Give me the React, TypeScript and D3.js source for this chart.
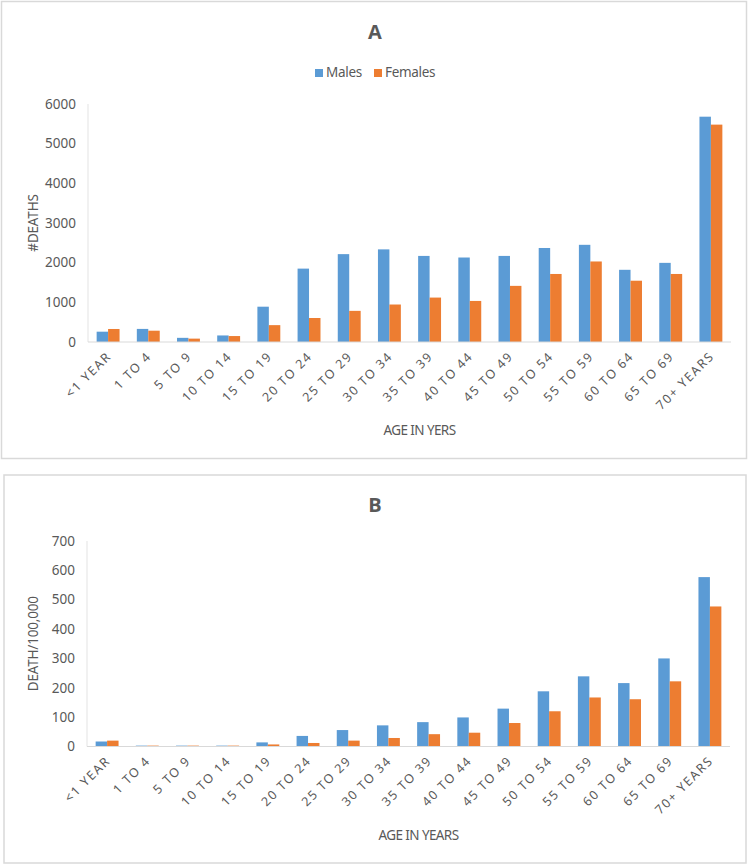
import React from "react";
import * as d3 from "d3";

const categories = ["<1 YEAR","1 TO 4","5 TO 9","10 TO 14","15 TO 19","20 TO 24","25 TO 29","30 TO 34","35 TO 39","40 TO 44","45 TO 49","50 TO 54","55 TO 59","60 TO 64","65 TO 69","70+ YEARS"];
const seriesNames = ["Males", "Females"];
const deathsMales = [260, 330, 105, 165, 890, 1850, 2215, 2335, 2170, 2130, 2170, 2370, 2450, 1820, 1995, 5680];
const deathsFemales = [328, 285, 85, 150, 425, 605, 785, 945, 1120, 1035, 1415, 1715, 2030, 1545, 1715, 5480];
const rateMales = [17, 3, 3, 3, 14, 36, 56, 72, 83, 99, 129, 188, 239, 216, 300, 577];
const rateFemales = [20, 3, 3, 3, 7, 12, 20, 29, 42, 47, 80, 120, 167, 161, 222, 477];
const ticksA = [0, 1000, 2000, 3000, 4000, 5000, 6000];
const ticksB = [0, 100, 200, 300, 400, 500, 600, 700];

const COLORS = ["#5B9BD5", "#ED7D31"];
const TEXT = "#595959";
const FONT = "'Noto Sans', sans-serif";

function Panel(props: any) {
  const { box, title, titleY, legendY, yTop, yBottom, yMax, ticks, yLabel, xLabel, xLabelY, males, females, left, right } = props;
  const x = d3.scaleBand<string>().domain(categories).range([left, right]).paddingInner(0.43).paddingOuter(0.215);
  const xs = d3.scaleBand<string>().domain(seriesNames).range([0, x.bandwidth()]);
  const y = d3.scaleLinear().domain([0, yMax]).range([yBottom, yTop]);
  const cx = (left + right) / 2;
  return (
    <g>
      <rect x={box[0]} y={box[1]} width={box[2]} height={box[3]} fill="#fff" stroke="#d9d9d9" strokeWidth={1.5} />
      <text x={375} y={titleY} textAnchor="middle" fontFamily="'Open Sans', sans-serif" fontWeight="bold" fontSize={20} fill={TEXT}>{title}</text>
      {legendY != null && (
        <g>
          <rect x={315} y={legendY - 8} width={8} height={8} fill={COLORS[0]} />
          <text x={326} y={legendY} fontFamily={FONT} fontSize={13.5} letterSpacing={-0.3} fill={TEXT}>Males</text>
          <rect x={374} y={legendY - 8} width={8} height={8} fill={COLORS[1]} />
          <text x={385} y={legendY} fontFamily={FONT} fontSize={13.5} letterSpacing={-0.3} fill={TEXT}>Females</text>
        </g>
      )}
      <line x1={left} x2={left} y1={yTop} y2={yBottom} stroke="#e3e3e3" />
      {ticks.map((t: number) => (
        <text key={t} x={left - 12} y={y(t)} dy="0.35em" textAnchor="end" fontFamily={FONT} fontSize={13.5} fill={TEXT}>{t}</text>
      ))}
      {categories.map((c, i) => (
        <g key={c} transform={`translate(${x(c)},0)`}>
          <rect x={xs("Males")} y={y(males[i])} width={xs.bandwidth()} height={yBottom - y(males[i])} fill={COLORS[0]} />
          <rect x={xs("Females")} y={y(females[i])} width={xs.bandwidth()} height={yBottom - y(females[i])} fill={COLORS[1]} />
        </g>
      ))}
      <line x1={left} x2={right} y1={yBottom} y2={yBottom} stroke="#d9d9d9" />
      {categories.map((c) => {
        const px = (x(c) as number) + x.bandwidth() / 2 + 4;
        const py = yBottom + 15;
        return (
          <text key={c} transform={`translate(${px},${py}) rotate(-45)`} textAnchor="end" fontFamily={FONT} fontSize={12.5} letterSpacing={1.6} fill={TEXT}>{c}</text>
        );
      })}
      <text transform={`translate(${props.yLabelX},${(yTop + yBottom) / 2}) rotate(-90)`} textAnchor="middle" fontFamily={FONT} fontSize={13.5} letterSpacing={-0.2} fill={TEXT}>{yLabel}</text>
      <text x={cx + 10} y={xLabelY} textAnchor="middle" fontFamily={FONT} fontSize={13.5} letterSpacing={-0.6} fill={TEXT}>{xLabel}</text>
    </g>
  );
}

export default function App() {
  return (
    <div style={{ position: "absolute", left: 0, top: 0 }}>
      <svg width={748} height={865} style={{ display: "block" }}>
        <rect x={0} y={0} width={748} height={865} fill="#fff" />
        <Panel box={[1.5, 1.5, 745, 457]} title="A" titleY={39} legendY={77} yTop={104} yBottom={342} yMax={6000} ticks={ticksA}
          yLabel="#DEATHS" yLabelX={38} xLabel="AGE IN YERS" xLabelY={435} males={deathsMales} females={deathsFemales}
          left={88} right={731} />
        <Panel box={[4, 475, 742, 388]} title="B" titleY={512} legendY={null} yTop={541} yBottom={746.5} yMax={700} ticks={ticksB}
          yLabel="DEATH/100,000" yLabelX={38} xLabel="AGE IN YEARS" xLabelY={840} males={rateMales} females={rateFemales}
          left={87} right={730} />
      </svg>
    </div>
  );
}
